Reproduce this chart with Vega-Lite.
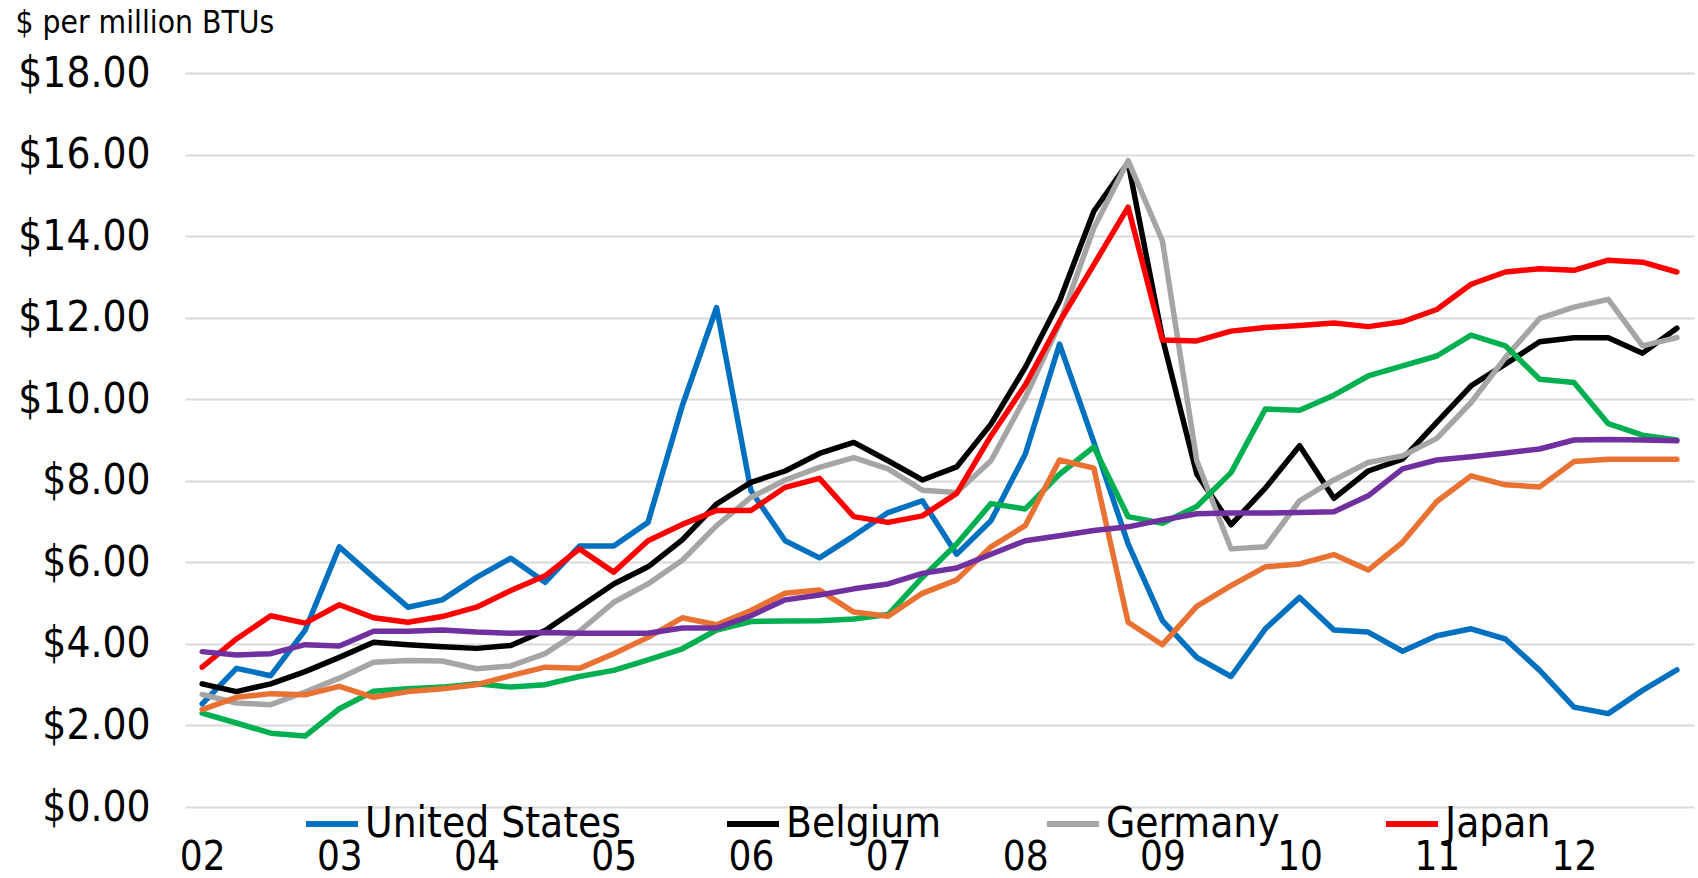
{
"$schema": "https://vega.github.io/schema/vega-lite/v6.json",
"width": 1509, "height": 734,
"autosize": "none",
"padding": {"left": 185, "top": 73, "right": 4, "bottom": 71},
"background": "white",
"config": {"view": {"stroke": null}, "font": "DejaVu Sans Condensed"},
"data": {"values": [
{"t":2002,"s":"United States","v":2.53},{"t":2002.25,"s":"United States","v":3.40},{"t":2002.5,"s":"United States","v":3.22},{"t":2002.75,"s":"United States","v":4.33},
{"t":2003,"s":"United States","v":6.38},{"t":2003.25,"s":"United States","v":5.63},{"t":2003.5,"s":"United States","v":4.90},{"t":2003.75,"s":"United States","v":5.08},
{"t":2004,"s":"United States","v":5.63},{"t":2004.25,"s":"United States","v":6.10},{"t":2004.5,"s":"United States","v":5.51},{"t":2004.75,"s":"United States","v":6.40},
{"t":2005,"s":"United States","v":6.40},{"t":2005.25,"s":"United States","v":6.98},{"t":2005.5,"s":"United States","v":9.84},{"t":2005.75,"s":"United States","v":12.25},
{"t":2006,"s":"United States","v":7.76},{"t":2006.25,"s":"United States","v":6.53},{"t":2006.5,"s":"United States","v":6.11},{"t":2006.75,"s":"United States","v":6.65},
{"t":2007,"s":"United States","v":7.22},{"t":2007.25,"s":"United States","v":7.51},{"t":2007.5,"s":"United States","v":6.20},{"t":2007.75,"s":"United States","v":7.02},
{"t":2008,"s":"United States","v":8.65},{"t":2008.25,"s":"United States","v":11.35},{"t":2008.5,"s":"United States","v":8.95},{"t":2008.75,"s":"United States","v":6.45},
{"t":2009,"s":"United States","v":4.57},{"t":2009.25,"s":"United States","v":3.67},{"t":2009.5,"s":"United States","v":3.20},{"t":2009.75,"s":"United States","v":4.37},
{"t":2010,"s":"United States","v":5.14},{"t":2010.25,"s":"United States","v":4.34},{"t":2010.5,"s":"United States","v":4.29},{"t":2010.75,"s":"United States","v":3.82},
{"t":2011,"s":"United States","v":4.20},{"t":2011.25,"s":"United States","v":4.37},{"t":2011.5,"s":"United States","v":4.12},{"t":2011.75,"s":"United States","v":3.35},
{"t":2012,"s":"United States","v":2.45},{"t":2012.25,"s":"United States","v":2.29},{"t":2012.5,"s":"United States","v":2.86},{"t":2012.75,"s":"United States","v":3.36},

{"t":2002,"s":"Belgium","v":3.02},{"t":2002.25,"s":"Belgium","v":2.83},{"t":2002.5,"s":"Belgium","v":3.02},{"t":2002.75,"s":"Belgium","v":3.32},
{"t":2003,"s":"Belgium","v":3.67},{"t":2003.25,"s":"Belgium","v":4.04},{"t":2003.5,"s":"Belgium","v":3.98},{"t":2003.75,"s":"Belgium","v":3.93},
{"t":2004,"s":"Belgium","v":3.89},{"t":2004.25,"s":"Belgium","v":3.96},{"t":2004.5,"s":"Belgium","v":4.33},{"t":2004.75,"s":"Belgium","v":4.90},
{"t":2005,"s":"Belgium","v":5.47},{"t":2005.25,"s":"Belgium","v":5.89},{"t":2005.5,"s":"Belgium","v":6.55},{"t":2005.75,"s":"Belgium","v":7.43},
{"t":2006,"s":"Belgium","v":7.96},{"t":2006.25,"s":"Belgium","v":8.24},{"t":2006.5,"s":"Belgium","v":8.67},{"t":2006.75,"s":"Belgium","v":8.94},
{"t":2007,"s":"Belgium","v":8.49},{"t":2007.25,"s":"Belgium","v":8.02},{"t":2007.5,"s":"Belgium","v":8.34},{"t":2007.75,"s":"Belgium","v":9.39},
{"t":2008,"s":"Belgium","v":10.78},{"t":2008.25,"s":"Belgium","v":12.41},{"t":2008.5,"s":"Belgium","v":14.61},{"t":2008.75,"s":"Belgium","v":15.80},
{"t":2009,"s":"Belgium","v":11.50},{"t":2009.25,"s":"Belgium","v":8.17},{"t":2009.5,"s":"Belgium","v":6.92},{"t":2009.75,"s":"Belgium","v":7.82},
{"t":2010,"s":"Belgium","v":8.86},{"t":2010.25,"s":"Belgium","v":7.57},{"t":2010.5,"s":"Belgium","v":8.24},{"t":2010.75,"s":"Belgium","v":8.53},
{"t":2011,"s":"Belgium","v":9.43},{"t":2011.25,"s":"Belgium","v":10.33},{"t":2011.5,"s":"Belgium","v":10.86},{"t":2011.75,"s":"Belgium","v":11.41},
{"t":2012,"s":"Belgium","v":11.51},{"t":2012.25,"s":"Belgium","v":11.51},{"t":2012.5,"s":"Belgium","v":11.13},{"t":2012.75,"s":"Belgium","v":11.74},

{"t":2002,"s":"Germany","v":2.76},{"t":2002.25,"s":"Germany","v":2.55},{"t":2002.5,"s":"Germany","v":2.51},{"t":2002.75,"s":"Germany","v":2.82},
{"t":2003,"s":"Germany","v":3.16},{"t":2003.25,"s":"Germany","v":3.55},{"t":2003.5,"s":"Germany","v":3.59},{"t":2003.75,"s":"Germany","v":3.58},
{"t":2004,"s":"Germany","v":3.39},{"t":2004.25,"s":"Germany","v":3.46},{"t":2004.5,"s":"Germany","v":3.76},{"t":2004.75,"s":"Germany","v":4.31},
{"t":2005,"s":"Germany","v":5.02},{"t":2005.25,"s":"Germany","v":5.47},{"t":2005.5,"s":"Germany","v":6.05},{"t":2005.75,"s":"Germany","v":6.90},
{"t":2006,"s":"Germany","v":7.59},{"t":2006.25,"s":"Germany","v":8.02},{"t":2006.5,"s":"Germany","v":8.33},{"t":2006.75,"s":"Germany","v":8.57},
{"t":2007,"s":"Germany","v":8.29},{"t":2007.25,"s":"Germany","v":7.77},{"t":2007.5,"s":"Germany","v":7.71},{"t":2007.75,"s":"Germany","v":8.49},
{"t":2008,"s":"Germany","v":10.04},{"t":2008.25,"s":"Germany","v":11.85},{"t":2008.5,"s":"Germany","v":14.20},{"t":2008.75,"s":"Germany","v":15.85},
{"t":2009,"s":"Germany","v":13.88},{"t":2009.25,"s":"Germany","v":8.50},{"t":2009.5,"s":"Germany","v":6.33},{"t":2009.75,"s":"Germany","v":6.38},
{"t":2010,"s":"Germany","v":7.51},{"t":2010.25,"s":"Germany","v":8.02},{"t":2010.5,"s":"Germany","v":8.45},{"t":2010.75,"s":"Germany","v":8.61},
{"t":2011,"s":"Germany","v":9.04},{"t":2011.25,"s":"Germany","v":9.92},{"t":2011.5,"s":"Germany","v":11.02},{"t":2011.75,"s":"Germany","v":11.98},
{"t":2012,"s":"Germany","v":12.26},{"t":2012.25,"s":"Germany","v":12.45},{"t":2012.5,"s":"Germany","v":11.31},{"t":2012.75,"s":"Germany","v":11.51},

{"t":2002,"s":"Japan","v":3.43},{"t":2002.25,"s":"Japan","v":4.12},{"t":2002.5,"s":"Japan","v":4.69},{"t":2002.75,"s":"Japan","v":4.51},
{"t":2003,"s":"Japan","v":4.96},{"t":2003.25,"s":"Japan","v":4.64},{"t":2003.5,"s":"Japan","v":4.53},{"t":2003.75,"s":"Japan","v":4.67},
{"t":2004,"s":"Japan","v":4.90},{"t":2004.25,"s":"Japan","v":5.31},{"t":2004.5,"s":"Japan","v":5.67},{"t":2004.75,"s":"Japan","v":6.33},
{"t":2005,"s":"Japan","v":5.76},{"t":2005.25,"s":"Japan","v":6.53},{"t":2005.5,"s":"Japan","v":6.93},{"t":2005.75,"s":"Japan","v":7.27},
{"t":2006,"s":"Japan","v":7.27},{"t":2006.25,"s":"Japan","v":7.84},{"t":2006.5,"s":"Japan","v":8.06},{"t":2006.75,"s":"Japan","v":7.12},
{"t":2007,"s":"Japan","v":6.98},{"t":2007.25,"s":"Japan","v":7.14},{"t":2007.5,"s":"Japan","v":7.69},{"t":2007.75,"s":"Japan","v":9.10},
{"t":2008,"s":"Japan","v":10.35},{"t":2008.25,"s":"Japan","v":11.90},{"t":2008.5,"s":"Japan","v":13.30},{"t":2008.75,"s":"Japan","v":14.71},
{"t":2009,"s":"Japan","v":11.45},{"t":2009.25,"s":"Japan","v":11.43},{"t":2009.5,"s":"Japan","v":11.67},{"t":2009.75,"s":"Japan","v":11.76},
{"t":2010,"s":"Japan","v":11.81},{"t":2010.25,"s":"Japan","v":11.87},{"t":2010.5,"s":"Japan","v":11.78},{"t":2010.75,"s":"Japan","v":11.90},
{"t":2011,"s":"Japan","v":12.20},{"t":2011.25,"s":"Japan","v":12.82},{"t":2011.5,"s":"Japan","v":13.12},{"t":2011.75,"s":"Japan","v":13.20},
{"t":2012,"s":"Japan","v":13.16},{"t":2012.25,"s":"Japan","v":13.41},{"t":2012.5,"s":"Japan","v":13.36},{"t":2012.75,"s":"Japan","v":13.12},

{"t":2002,"s":"United Kingdom","v":2.30},{"t":2002.25,"s":"United Kingdom","v":2.06},{"t":2002.5,"s":"United Kingdom","v":1.81},{"t":2002.75,"s":"United Kingdom","v":1.74},
{"t":2003,"s":"United Kingdom","v":2.41},{"t":2003.25,"s":"United Kingdom","v":2.84},{"t":2003.5,"s":"United Kingdom","v":2.90},{"t":2003.75,"s":"United Kingdom","v":2.94},
{"t":2004,"s":"United Kingdom","v":3.02},{"t":2004.25,"s":"United Kingdom","v":2.94},{"t":2004.5,"s":"United Kingdom","v":3.00},{"t":2004.75,"s":"United Kingdom","v":3.20},
{"t":2005,"s":"United Kingdom","v":3.35},{"t":2005.25,"s":"United Kingdom","v":3.61},{"t":2005.5,"s":"United Kingdom","v":3.88},{"t":2005.75,"s":"United Kingdom","v":4.34},
{"t":2006,"s":"United Kingdom","v":4.55},{"t":2006.25,"s":"United Kingdom","v":4.56},{"t":2006.5,"s":"United Kingdom","v":4.57},{"t":2006.75,"s":"United Kingdom","v":4.61},
{"t":2007,"s":"United Kingdom","v":4.72},{"t":2007.25,"s":"United Kingdom","v":5.63},{"t":2007.5,"s":"United Kingdom","v":6.45},{"t":2007.75,"s":"United Kingdom","v":7.44},
{"t":2008,"s":"United Kingdom","v":7.31},{"t":2008.25,"s":"United Kingdom","v":8.16},{"t":2008.5,"s":"United Kingdom","v":8.83},{"t":2008.75,"s":"United Kingdom","v":7.12},
{"t":2009,"s":"United Kingdom","v":6.96},{"t":2009.25,"s":"United Kingdom","v":7.37},{"t":2009.5,"s":"United Kingdom","v":8.20},{"t":2009.75,"s":"United Kingdom","v":9.76},
{"t":2010,"s":"United Kingdom","v":9.73},{"t":2010.25,"s":"United Kingdom","v":10.10},{"t":2010.5,"s":"United Kingdom","v":10.57},{"t":2010.75,"s":"United Kingdom","v":10.82},
{"t":2011,"s":"United Kingdom","v":11.06},{"t":2011.25,"s":"United Kingdom","v":11.57},{"t":2011.5,"s":"United Kingdom","v":11.31},{"t":2011.75,"s":"United Kingdom","v":10.49},
{"t":2012,"s":"United Kingdom","v":10.41},{"t":2012.25,"s":"United Kingdom","v":9.40},{"t":2012.5,"s":"United Kingdom","v":9.12},{"t":2012.75,"s":"United Kingdom","v":9.00},

{"t":2002,"s":"Canada","v":2.39},{"t":2002.25,"s":"Canada","v":2.69},{"t":2002.5,"s":"Canada","v":2.78},{"t":2002.75,"s":"Canada","v":2.75},
{"t":2003,"s":"Canada","v":2.96},{"t":2003.25,"s":"Canada","v":2.69},{"t":2003.5,"s":"Canada","v":2.83},{"t":2003.75,"s":"Canada","v":2.90},
{"t":2004,"s":"Canada","v":3.00},{"t":2004.25,"s":"Canada","v":3.22},{"t":2004.5,"s":"Canada","v":3.43},{"t":2004.75,"s":"Canada","v":3.40},
{"t":2005,"s":"Canada","v":3.76},{"t":2005.25,"s":"Canada","v":4.16},{"t":2005.5,"s":"Canada","v":4.64},{"t":2005.75,"s":"Canada","v":4.47},
{"t":2006,"s":"Canada","v":4.82},{"t":2006.25,"s":"Canada","v":5.24},{"t":2006.5,"s":"Canada","v":5.32},{"t":2006.75,"s":"Canada","v":4.78},
{"t":2007,"s":"Canada","v":4.68},{"t":2007.25,"s":"Canada","v":5.24},{"t":2007.5,"s":"Canada","v":5.57},{"t":2007.75,"s":"Canada","v":6.38},
{"t":2008,"s":"Canada","v":6.90},{"t":2008.25,"s":"Canada","v":8.51},{"t":2008.5,"s":"Canada","v":8.31},{"t":2008.75,"s":"Canada","v":4.53},
{"t":2009,"s":"Canada","v":3.98},{"t":2009.25,"s":"Canada","v":4.92},{"t":2009.5,"s":"Canada","v":5.43},{"t":2009.75,"s":"Canada","v":5.89},
{"t":2010,"s":"Canada","v":5.96},{"t":2010.25,"s":"Canada","v":6.19},{"t":2010.5,"s":"Canada","v":5.81},{"t":2010.75,"s":"Canada","v":6.49},
{"t":2011,"s":"Canada","v":7.49},{"t":2011.25,"s":"Canada","v":8.12},{"t":2011.5,"s":"Canada","v":7.90},{"t":2011.75,"s":"Canada","v":7.85},
{"t":2012,"s":"Canada","v":8.47},{"t":2012.25,"s":"Canada","v":8.53},{"t":2012.5,"s":"Canada","v":8.53},{"t":2012.75,"s":"Canada","v":8.53},

{"t":2002,"s":"Russia","v":3.81},{"t":2002.25,"s":"Russia","v":3.73},{"t":2002.5,"s":"Russia","v":3.76},{"t":2002.75,"s":"Russia","v":3.98},
{"t":2003,"s":"Russia","v":3.95},{"t":2003.25,"s":"Russia","v":4.31},{"t":2003.5,"s":"Russia","v":4.31},{"t":2003.75,"s":"Russia","v":4.34},
{"t":2004,"s":"Russia","v":4.29},{"t":2004.25,"s":"Russia","v":4.26},{"t":2004.5,"s":"Russia","v":4.28},{"t":2004.75,"s":"Russia","v":4.26},
{"t":2005,"s":"Russia","v":4.26},{"t":2005.25,"s":"Russia","v":4.26},{"t":2005.5,"s":"Russia","v":4.39},{"t":2005.75,"s":"Russia","v":4.39},
{"t":2006,"s":"Russia","v":4.69},{"t":2006.25,"s":"Russia","v":5.08},{"t":2006.5,"s":"Russia","v":5.20},{"t":2006.75,"s":"Russia","v":5.35},
{"t":2007,"s":"Russia","v":5.47},{"t":2007.25,"s":"Russia","v":5.73},{"t":2007.5,"s":"Russia","v":5.86},{"t":2007.75,"s":"Russia","v":6.20},
{"t":2008,"s":"Russia","v":6.53},{"t":2008.25,"s":"Russia","v":6.65},{"t":2008.5,"s":"Russia","v":6.78},{"t":2008.75,"s":"Russia","v":6.87},
{"t":2009,"s":"Russia","v":7.04},{"t":2009.25,"s":"Russia","v":7.19},{"t":2009.5,"s":"Russia","v":7.21},{"t":2009.75,"s":"Russia","v":7.21},
{"t":2010,"s":"Russia","v":7.22},{"t":2010.25,"s":"Russia","v":7.24},{"t":2010.5,"s":"Russia","v":7.63},{"t":2010.75,"s":"Russia","v":8.29},
{"t":2011,"s":"Russia","v":8.51},{"t":2011.25,"s":"Russia","v":8.59},{"t":2011.5,"s":"Russia","v":8.68},{"t":2011.75,"s":"Russia","v":8.78},
{"t":2012,"s":"Russia","v":9.00},{"t":2012.25,"s":"Russia","v":9.01},{"t":2012.5,"s":"Russia","v":9.00},{"t":2012.75,"s":"Russia","v":8.98}
]},
"mark": {"type": "line", "strokeWidth": 5.5, "strokeJoin": "round", "strokeCap": "round"},
"encoding": {
  "x": {"field": "t", "type": "quantitative",
    "scale": {"domain": [2001.875, 2012.875], "nice": false, "zero": false},
    "axis": {"values": [2002,2003,2004,2005,2006,2007,2008,2009,2010,2011,2012],
      "labelExpr": "substring(toString(datum.value), 2)",
      "grid": false, "domain": false, "ticks": false, "title": null,
      "labelFontSize": 40, "labelColor": "#000000", "labelPadding": 30, "labelFont": "DejaVu Sans Condensed"}},
  "y": {"field": "v", "type": "quantitative",
    "scale": {"domain": [0, 18], "nice": false},
    "axis": {"values": [0,2,4,6,8,10,12,14,16,18], "format": "$.2f",
      "grid": true, "gridColor": "#D9D9D9", "gridWidth": 2,
      "domain": false, "ticks": false,
      "labelFontSize": 42, "labelColor": "#000000", "labelPadding": 35, "labelFont": "DejaVu Sans Condensed",
      "title": "$ per million BTUs", "titleAngle": 0, "titleX": -170, "titleY": -41,
      "titleAlign": "left", "titleBaseline": "alphabetic", "titleFontSize": 31.5,
      "titleFontWeight": "normal", "titleColor": "#000000", "titleFont": "DejaVu Sans Condensed"}},
  "color": {"field": "s", "type": "nominal",
    "scale": {"domain": ["United States","Belgium","Germany","Japan","United Kingdom","Canada","Russia"],
      "range": ["#0070C0","#000000","#A5A5A5","#FF0000","#00B050","#E97132","#7030A0"]},
    "legend": {"values": ["United States","Belgium","Germany","Japan"],
      "orient": "none", "legendX": 118, "legendY": 722, "direction": "horizontal",
      "title": null, "symbolType": "stroke", "symbolStrokeWidth": 6, "symbolSize": 2704,
      "labelFontSize": 42, "labelColor": "#000000", "labelFont": "DejaVu Sans Condensed",
      "labelLimit": 600, "labelOffset": 4, "columnPadding": 94, "padding": 0}}
}
}
